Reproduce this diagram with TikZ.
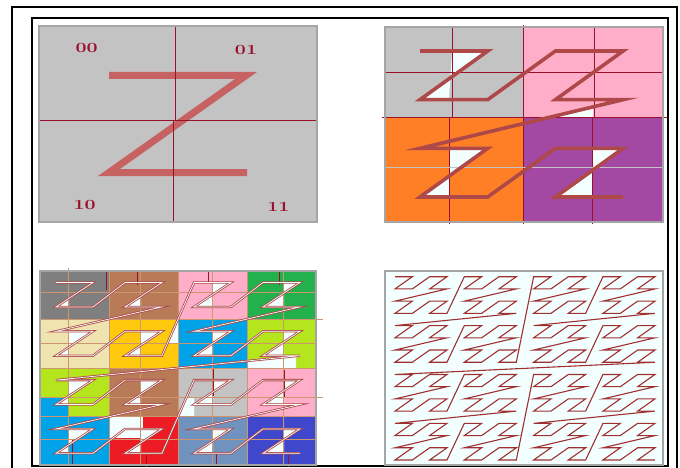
\documentclass[tikz,border=0pt]{standalone}
\usepackage{tikz}
\usepackage{xcolor}
\usepackage{graphicx}

\definecolor{zred}{RGB}{200,88,88}
\definecolor{zbrown}{RGB}{175,72,72}
\definecolor{curvered}{RGB}{160,48,48}
\definecolor{gridred}{RGB}{155,15,45}
\definecolor{gridtan}{RGB}{205,150,110}
\definecolor{framegray}{RGB}{165,165,165}
\definecolor{paleblue}{RGB}{243,255,255}
\definecolor{pgray}{RGB}{195,195,195}
\definecolor{pdark}{RGB}{127,127,127}
\definecolor{ppink}{RGB}{255,174,201}
\definecolor{porange}{RGB}{255,127,39}
\definecolor{ppurple}{RGB}{163,73,164}
\definecolor{pbrown}{RGB}{185,122,87}
\definecolor{pgreen}{RGB}{34,177,76}
\definecolor{pbeige}{RGB}{239,228,176}
\definecolor{pgold}{RGB}{255,201,14}
\definecolor{pblue}{RGB}{0,162,232}
\definecolor{plime}{RGB}{181,230,29}
\definecolor{pred}{RGB}{237,28,36}
\definecolor{psteel}{RGB}{112,146,190}
\definecolor{pindigo}{RGB}{63,72,204}

\begin{document}
\begin{tikzpicture}[x=1pt,y=-1pt,
  declare function={zx(\k)=mod(\k,2)+2*mod(floor(\k/4),2)+4*mod(floor(\k/16),2)+8*mod(floor(\k/64),2);
                    zy(\k)=mod(floor(\k/2),2)+2*mod(floor(\k/8),2)+4*mod(floor(\k/32),2)+8*mod(floor(\k/128),2);},
  panel/.style={draw=framegray,line width=1.3pt},
  gridline/.style={draw=gridred,line width=1pt},
  tanline/.style={draw=gridtan,line width=0.8pt},
  hole/.style={fill=paleblue},
  digit/.style={text=gridred,inner sep=0pt,font=\bfseries\fontsize{14}{14}\selectfont},
  zbig/.style={draw=zred,line width=7pt,opacity=0.9},
  zmid/.style={draw=zbrown,line width=3.6pt},
  zsmall/.style={draw=zbrown,line width=0.8pt,double=paleblue,double distance=0.7pt},
  zfine/.style={draw=curvered,line width=1.1pt}]
\useasboundingbox (0,0) rectangle (680,468);
\fill[white] (0,0) rectangle (680,468);
\draw[line width=2pt] (12,470) -- (12,7) -- (677,7) -- (677,470);
\draw[line width=1.4pt] (32,18) rectangle (668,466);

\fill[pgray] (39,26) rectangle (317,222);
\draw[zbig] (109,75.5) -- (246,75.5) -- (109,172.5) -- (247,172.5);
\draw[gridline] (175,27) -- (175,121);
\draw[gridline] (173,121) -- (173,223);
\draw[gridline] (40,121) -- (317,121);
\draw[panel] (39,26) rectangle (317,222);
\node[digit] (q00) at (86.7,48) {\scalebox{1.4}[1]{00}};
\node[digit] (q01) at (246,50) {\scalebox{1.4}[1]{01}};
\node[digit] (q10) at (84.7,205.3) {\scalebox{1.4}[1]{10}};
\node[digit] (q11) at (278.3,207.2) {\scalebox{1.4}[1]{11}};

\fill[pgray] (385,27) rectangle (523,118);
\fill[ppink] (523,27) rectangle (663,118);
\fill[porange] (385,118) rectangle (523,222);
\fill[ppurple] (523,118) rectangle (663,222);
\fill[hole] (452,51) -- (487.7,51) -- (420,99.5) -- (449,99.5) -- cycle;
\fill[hole] (449,147.5) -- (487.7,147.5) -- (420,197) -- (449,197) -- cycle;
\fill[hole] (592,147.5) -- (623,147.5) -- (555.3,197) -- (592,197) -- cycle;
\fill[hole] (593,106.6) -- (593,118) -- (545,118) -- cycle;
\draw[gridline] (452,27) -- (452,118);
\draw[gridline] (449,118) -- (449,224);
\draw[gridline] (523,25) -- (523,224);
\draw[gridline] (594,27) -- (594,118);
\draw[gridline] (592,118) -- (592,224);
\draw[gridline] (386,73) -- (663,73);
\draw[gridline] (382,118) -- (667,118);
\draw[draw=pgray,line width=0.9pt] (385,167) -- (664,167);
\draw[zmid] (420,51) \foreach \k in {1,...,15} {-- ({420+67.7*zx(\k)},{51+48.67*zy(\k)})};
\draw[panel] (385,27) rectangle (663,222);

\foreach \col [count=\n from 0] in {pdark,pbrown,ppink,pgreen,pbeige,pgold,pblue,plime,plime,pbrown,pgray,ppink,pblue,pred,psteel,pindigo}
  \fill[\col] ({40+69*mod(\n,4)},{271+48.5*floor(\n/4)}) rectangle +(69,48.5);
\fill[pblue] (40,397) rectangle (69,416.5);
\fill[hole] (109,416.5) rectangle (143,438);
\fill[hole] (247,361) -- (296,356) -- (296,368) -- (247,368) -- cycle;
\fill[hole] (167,343) -- (178,319.5) -- (178,343) -- cycle;
\fill[hole] (178,416) -- (186,398) -- (194,398) -- (194,416) -- cycle;
\foreach \c/\xm in {0/68,1/140,2/212,3/283}
  \foreach \r in {0,...,3}
    \fill[hole] ({\xm+1},{306.9+48.8*\r}) -- ({56+69*\c},{306.9+48.8*\r}) -- ({\xm+1},{282.5+48.8*\r+24.4*(93+69*\c-\xm-1)/37}) -- cycle;
\foreach \c/\xm in {2/212,3/283}
  \fill[hole] (\xm,282.5) -- ({93+69*\c},282.5) -- (\xm,{282.5+24.4*(93+69*\c-\xm)/37}) -- cycle;
\foreach \c/\xm in {0/68,1/140,2/212,3/283}
  \foreach \r in {1,...,3}
    \fill[hole] (\xm,{282.5+48.8*\r}) -- ({93+69*\c},{282.5+48.8*\r}) -- (\xm,{282.5+48.8*\r+24.4*(93+69*\c-\xm)/37}) -- cycle;
\foreach \xv in {68,109,140,178,212,247,283}
  \draw[tanline] (\xv,271) -- (\xv,465);
\draw[tanline] (68,268) -- (68,271);
\foreach \yv in {292,319.5,343,368,397,416.5,439}
  \draw[tanline] (40,\yv) -- (316,\yv);
\draw[tanline] (316,319.5) -- (323,319.5);
\draw[tanline] (316,397) -- (323,397);
\foreach \xv/\ya/\yb in {106/271.7/290,137.3/271.7/285,208.3/270.7/282.7,279.3/271.7/285,213.3/369/396,284/370/396.7,72.7/440/465,146/455/466.7,216.7/453/465,288.3/455/466.7}
  \draw[gridline] (\xv,\ya) -- (\xv,\yb);
\draw[zsmall] (56,282.5) \foreach \k in {1,...,63} {-- ({56+69*floor(zx(\k)/2)+37*mod(zx(\k),2)},{282.5+24.4*zy(\k)})};
\draw[panel] (40,271) rectangle (316,465);

\fill[paleblue] (385,271) rectangle (663,465);
\draw[zfine] (395,276.7) \foreach \k in {1,...,255} {-- ({395+17.33*zx(\k)},{276.7+12.22*zy(\k)})};
\draw[panel] (385,271) rectangle (663,465);
\end{tikzpicture}
\end{document}
